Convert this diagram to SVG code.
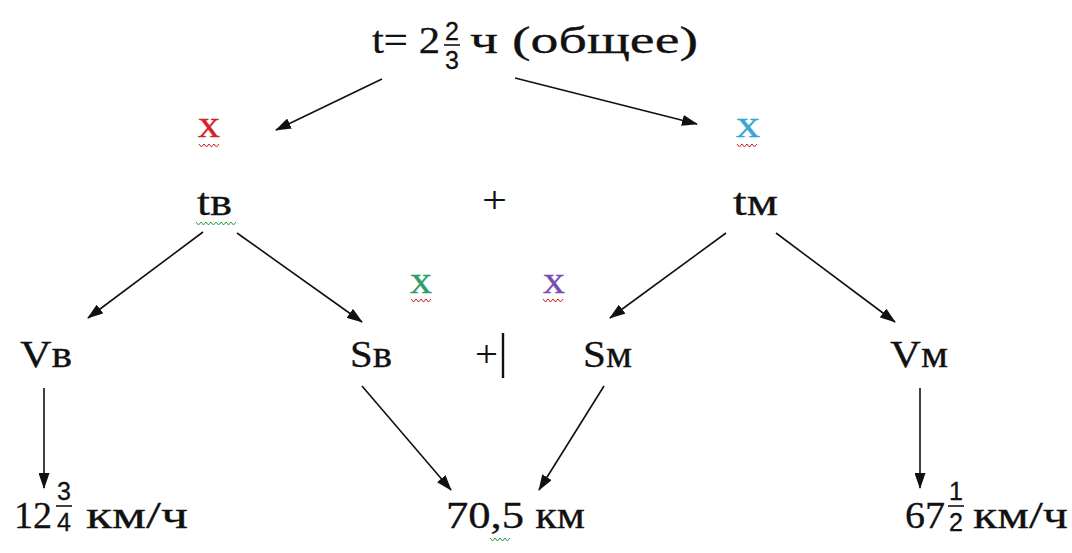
<svg xmlns="http://www.w3.org/2000/svg" width="1072" height="553" viewBox="0 0 1072 553">
<defs>
<style>
.t{font-family:"Liberation Serif","Times New Roman",serif;font-size:37px;fill:#111;stroke:#111;stroke-width:0.3}
.f{font-family:"Liberation Sans",Arial,sans-serif;font-size:25px;fill:#111;stroke:#111;stroke-width:0.3;text-anchor:middle}
.c line{stroke:#111;stroke-width:1.6;marker-end:url(#ah)}
.bar{stroke:#111;stroke-width:1.6}
.wr{fill:none;stroke:#d02020;stroke-width:1}
.wg{fill:none;stroke:#2a9a40;stroke-width:1}
</style>
<marker id="ah" viewBox="0 0 16 11" refX="15" refY="5.5" markerWidth="16" markerHeight="11" orient="auto" markerUnits="userSpaceOnUse">
<path d="M0,0 L16,5.5 L0,11 Z" fill="#111"/>
</marker>
<path id="wave" d="M0,0 l2.5,3 l2.5,-3 l2.5,3 l2.5,-3 l2.5,3 l2.5,-3 l2.5,3 l2.5,-3"/>
</defs>
<rect width="1072" height="553" fill="#fff"/>

<g class="c" id="connectors">
<line x1="382" y1="79" x2="276" y2="130"/>
<line x1="515" y1="78" x2="697" y2="124"/>
<line x1="203" y1="232" x2="88" y2="318"/>
<line x1="237" y1="233" x2="362" y2="322"/>
<line x1="726" y1="233" x2="610" y2="318"/>
<line x1="776" y1="233" x2="895" y2="322"/>
<line x1="44" y1="388" x2="44" y2="488"/>
<line x1="362" y1="386" x2="451" y2="490"/>
<line x1="604" y1="386" x2="539" y2="490"/>
<line x1="920" y1="388" x2="920" y2="488"/>
</g>

<g id="title">
<text class="t" x="372" y="53" textLength="68" lengthAdjust="spacingAndGlyphs">t= 2</text>
<text class="f" x="452" y="40">2</text>
<line class="bar" x1="444" y1="45" x2="460" y2="45"/>
<text class="f" x="452" y="69">3</text>
<text class="t" x="470" y="53" textLength="228" lengthAdjust="spacingAndGlyphs">ч (общее)</text>
</g>

<g id="x-red">
<text class="t" x="198" y="137" textLength="22" lengthAdjust="spacingAndGlyphs" style="fill:#d42027;stroke:#d42027">x</text>
<use href="#wave" x="199" y="144" class="wr"/>
</g>
<g id="x-blue">
<text class="t" x="736" y="137" textLength="24" lengthAdjust="spacingAndGlyphs" style="fill:#35a6d2;stroke:#35a6d2">x</text>
<use href="#wave" x="737" y="144" class="wr"/>
</g>
<g id="tv">
<text class="t" x="197" y="215" textLength="35" lengthAdjust="spacingAndGlyphs">tв</text>
<use href="#wave" x="196" y="222" class="wg"/>
<use href="#wave" x="216" y="222" class="wg"/>
</g>
<g id="plus1"><text class="t" x="482" y="213" textLength="25" lengthAdjust="spacingAndGlyphs" style="stroke-width:0">+</text></g>
<g id="tm"><text class="t" x="733" y="215" textLength="45" lengthAdjust="spacingAndGlyphs">tм</text></g>

<g id="x-green">
<text class="t" x="410" y="293" textLength="22" lengthAdjust="spacingAndGlyphs" style="fill:#2e9e68;stroke:#2e9e68">x</text>
<use href="#wave" x="411" y="299" class="wr"/>
</g>
<g id="x-purple">
<text class="t" x="543" y="293" textLength="22" lengthAdjust="spacingAndGlyphs" style="fill:#7a4cae;stroke:#7a4cae">x</text>
<use href="#wave" x="543" y="299" class="wr"/>
</g>

<g id="Vv"><text class="t" x="20" y="367" textLength="52" lengthAdjust="spacingAndGlyphs">Vв</text></g>
<g id="Sv"><text class="t" x="350" y="367" textLength="42" lengthAdjust="spacingAndGlyphs">Sв</text></g>
<g id="plus2">
<text class="t" x="475" y="367" textLength="23" lengthAdjust="spacingAndGlyphs" style="stroke-width:0">+</text>
<line x1="503" y1="333" x2="503" y2="378" stroke="#111" stroke-width="2.4"/>
</g>
<g id="Sm"><text class="t" x="583" y="367" textLength="49" lengthAdjust="spacingAndGlyphs">Sм</text></g>
<g id="Vm"><text class="t" x="890" y="367" textLength="58" lengthAdjust="spacingAndGlyphs">Vм</text></g>

<g id="v-bikes">
<text class="t" x="14" y="528" textLength="38" lengthAdjust="spacingAndGlyphs">12</text>
<text class="f" x="64" y="500">3</text>
<line class="bar" x1="56" y1="506" x2="72" y2="506"/>
<text class="f" x="64" y="531">4</text>
<text class="t" x="86" y="528" textLength="102" lengthAdjust="spacingAndGlyphs">км/ч</text>
</g>
<g id="distance">
<text class="t" x="446" y="528" textLength="139" lengthAdjust="spacingAndGlyphs">70,5 км</text>
<use href="#wave" x="490" y="538" class="wg"/>
</g>
<g id="v-moto">
<text class="t" x="905" y="528" textLength="40" lengthAdjust="spacingAndGlyphs">67</text>
<text class="f" x="956" y="500">1</text>
<line class="bar" x1="948" y1="506" x2="964" y2="506"/>
<text class="f" x="956" y="531">2</text>
<text class="t" x="973" y="528" textLength="95" lengthAdjust="spacingAndGlyphs">км/ч</text>
</g>
</svg>
